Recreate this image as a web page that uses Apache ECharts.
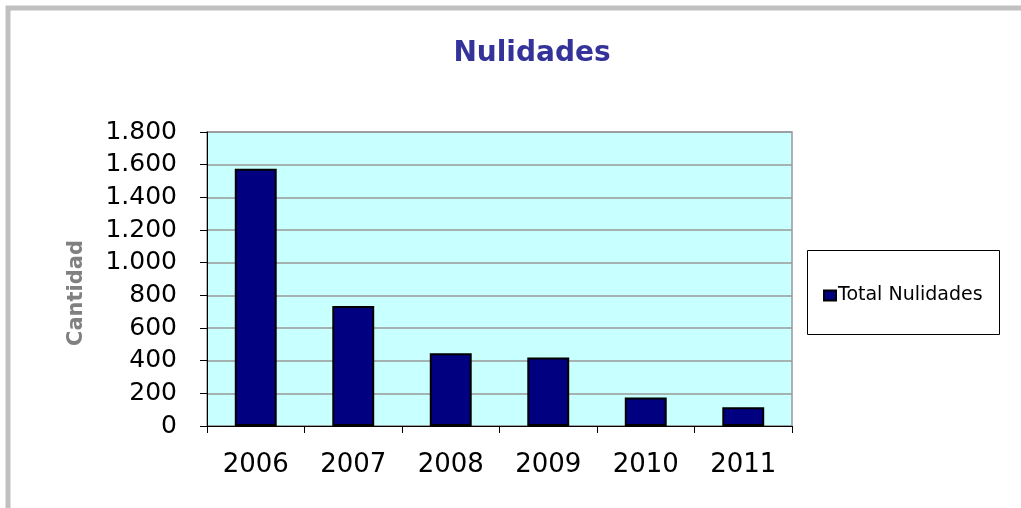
<!DOCTYPE html>
<html>
<head>
<meta charset="utf-8">
<script src="https://cdn.jsdelivr.net/npm/echarts@6/dist/echarts.min.js"></script>
<style>
  html, body { margin: 0; padding: 0; background: #fff; }
  #chart { width: 1021px; height: 508px; }
</style>
</head>
<body>
<div id="chart"></div>
<script>
const years = ['2006', '2007', '2008', '2009', '2010', '2011'];
const totalNulidades = [1575, 735, 445, 420, 175, 115];
const yTicks = [0, 200, 400, 600, 800, 1000, 1200, 1400, 1600, 1800];

const chart = echarts.init(document.getElementById('chart'), null, { renderer: 'canvas' });

// numbers shown with a dot as thousands separator
const fmt = v => String(v).replace(/\B(?=(\d{3})+(?!\d))/g, '.');

const option = {
    animation: false,
    backgroundColor: '#fff',
    textStyle: { fontFamily: 'DejaVu Sans' },
    title: {
        text: 'Nulidades',
        left: 527,
        textAlign: 'center',
        top: 35,
        textStyle: { color: '#333399', fontSize: 28, fontWeight: 'bold', fontFamily: 'DejaVu Sans' }
    },
    graphic: [
        // outer frame (left and top edges)
        { type: 'rect', shape: { x: 8, y: 8, width: 1030, height: 520 }, style: { fill: 'none', stroke: '#c0c0c0', lineWidth: 5 }, silent: true },
        // legend box
        { type: 'rect', shape: { x: 807.5, y: 250.5, width: 192, height: 84 }, style: { fill: '#fff', stroke: '#000', lineWidth: 1 }, silent: true }
    ],
    legend: {
        left: 818,
        top: 281,
        icon: 'rect',
        itemWidth: 12,
        itemHeight: 10,
        itemGap: 5,
        data: ['Total Nulidades'],
        textStyle: { color: '#000', fontSize: 19, fontFamily: 'DejaVu Sans', padding: [0, 0, 0, -3] }
    },
    grid: {
        left: 207,
        right: 229,
        top: 132,
        bottom: 82,
        show: true,
        backgroundColor: '#c8ffff',
        borderColor: '#999',
        borderWidth: 1.5
    },
    xAxis: {
        type: 'category',
        data: years,
        boundaryGap: true,
        axisLine: { lineStyle: { color: '#000', width: 1 } },
        axisTick: { show: true, length: 7, alignWithLabel: false, lineStyle: { color: '#000' } },
        axisLabel: { color: '#000', fontSize: 26, margin: 26, fontFamily: 'DejaVu Sans' }
    },
    yAxis: {
        type: 'value',
        min: 0,
        max: 1800,
        interval: 200,
        name: 'Cantidad',
        nameLocation: 'middle',
        nameGap: 120,
        nameTextStyle: { color: '#808080', fontSize: 21, fontWeight: 'bold', fontFamily: 'DejaVu Sans', padding: [0, 28, 0, 0] },
        axisLine: { show: true, lineStyle: { color: '#000', width: 1 } },
        axisTick: { show: true, length: 7, lineStyle: { color: '#000' } },
        axisLabel: {
            color: '#000',
            fontSize: 25,
            margin: 30,
            fontFamily: 'DejaVu Sans',
            formatter: v => yTicks.includes(v) ? fmt(v) : ''
        },
        splitLine: { show: true, lineStyle: { color: '#999', width: 1.5 } }
    },
    series: [
        {
            name: 'Total Nulidades',
            type: 'bar',
            data: totalNulidades,
            barWidth: '43%',
            itemStyle: { color: '#000080', borderColor: '#000', borderWidth: 2 }
        }
    ]
};

chart.setOption(option);
</script>
</body>
</html>
